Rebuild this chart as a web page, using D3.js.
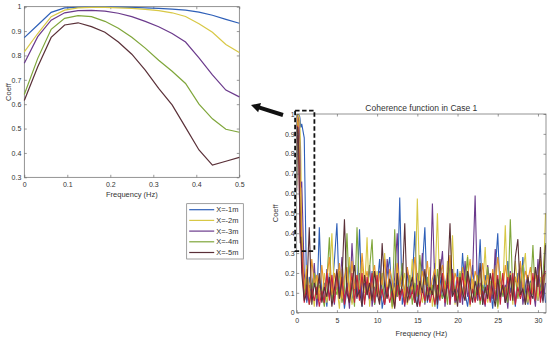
<!DOCTYPE html>
<html>
<head>
<meta charset="utf-8">
<script src="https://cdn.jsdelivr.net/npm/d3@7/dist/d3.min.js"></script>
<style>
  body { margin: 0; background: #fff; }
  svg { display: block; font-family: "Liberation Sans", Arial, sans-serif; }
  .axis text { fill: #333; font-size: 7px; }
  .axis line { stroke: #555; stroke-width: 0.6; }
  .axis path { display: none; }
  .lbl { fill: #333; font-size: 7.5px; }
</style>
</head>
<body>
<div id="chart"></div>
<script>
// 周波数の刻み (左の拡大図は 0-0.5Hz、右は全帯域)
var zoomFreq = d3.range(17).map(function(k) { return k / 32; });
var bandFreq = d3.range(98).map(function(i) { return 0.625 + i * 0.3125; });

// 左図の目盛り
var zoomXTicks = [0, 0.1, 0.2, 0.3, 0.4, 0.5];
var zoomYTicks = [0.3, 0.4, 0.5, 0.6, 0.7, 0.8, 0.9, 1];
// 右図の目盛り
var fullXTicks = [0, 5, 10, 15, 20, 25, 30];
var fullYTicks = [0, 0.1, 0.2, 0.3, 0.4, 0.5, 0.6, 0.7, 0.8, 0.9, 1];

var seriesNames = ['X=-1m', 'X=-2m', 'X=-3m', 'X=-4m', 'X=-5m'];

// 0-0.5Hz のコヒーレンス
var coefX1 = [0.873, 0.925, 0.977, 0.995, 0.997, 0.998, 0.998, 0.998, 0.997, 0.995, 0.993, 0.99, 0.986, 0.978, 0.965, 0.948, 0.932];
var coefX2 = [0.815, 0.89, 0.959, 0.986, 0.995, 0.997, 0.997, 0.995, 0.993, 0.989, 0.984, 0.975, 0.96, 0.93, 0.895, 0.845, 0.812];
var coefX3 = [0.768, 0.877, 0.945, 0.975, 0.984, 0.985, 0.982, 0.973, 0.959, 0.94, 0.918, 0.89, 0.855, 0.79, 0.72, 0.658, 0.63];
var coefX4 = [0.64, 0.788, 0.907, 0.952, 0.963, 0.959, 0.94, 0.912, 0.875, 0.83, 0.78, 0.735, 0.685, 0.6, 0.54, 0.497, 0.485];
var coefX5 = [0.615, 0.754, 0.874, 0.925, 0.934, 0.918, 0.895, 0.855, 0.805, 0.74, 0.665, 0.597, 0.505, 0.412, 0.35, 0.366, 0.382];
// 右図のみの2系列 (0-0.5Hz)
var coefOr = [0.9, 0.95, 0.98, 0.99, 0.985, 0.97, 0.95, 0.93, 0.9, 0.86, 0.82, 0.78, 0.74, 0.7, 0.66, 0.63, 0.6];
var coefRd = [0.85, 0.9, 0.93, 0.94, 0.93, 0.91, 0.88, 0.84, 0.79, 0.73, 0.66, 0.59, 0.52, 0.46, 0.41, 0.37, 0.35];

// 0.625Hz 以降のコヒーレンス
var bandX1 = [0.95, 0.88, 0.05, 0.18, 0.08, 0.22, 0.04, 0.43, 0.06, 0.15,
  0.03, 0.2, 0.1, 0.26, 0.45, 0.07, 0.16, 0.02, 0.12, 0.24,
  0.05, 0.14, 0.09, 0.42, 0.03, 0.17, 0.11, 0.06, 0.21, 0.04,
  0.13, 0.27, 0.02, 0.1, 0.19, 0.28, 0.06, 0.15, 0.08, 0.58,
  0.04, 0.12, 0.2, 0.07, 0.16, 0.41, 0.03, 0.11, 0.23, 0.43,
  0.05, 0.14, 0.09, 0.25, 0.02, 0.18, 0.07, 0.13, 0.2, 0.04,
  0.16, 0.08, 0.22, 0.05, 0.3, 0.1, 0.03, 0.15, 0.24, 0.06,
  0.12, 0.37, 0.04, 0.19, 0.09, 0.14, 0.02, 0.21, 0.4, 0.07,
  0.13, 0.05, 0.26, 0.1, 0.17, 0.03, 0.2, 0.08, 0.28, 0.11,
  0.04, 0.16, 0.09, 0.22, 0.06, 0.13, 0.18, 0.05];
var bandX2 = [0.45, 0.1, 0.24, 0.06, 0.15, 0.03, 0.19, 0.11, 0.08, 0.2,
  0.05, 0.16, 0.4, 0.09, 0.13, 0.02, 0.22, 0.07, 0.14, 0.28,
  0.04, 0.12, 0.18, 0.06, 0.25, 0.1, 0.38, 0.03, 0.15, 0.09,
  0.21, 0.05, 0.13, 0.3, 0.08, 0.17, 0.02, 0.11, 0.24, 0.06,
  0.14, 0.2, 0.04, 0.1, 0.27, 0.07, 0.575, 0.12, 0.05, 0.19,
  0.09, 0.23, 0.03, 0.15, 0.5, 0.08, 0.18, 0.06, 0.26, 0.11,
  0.39, 0.04, 0.14, 0.21, 0.07, 0.12, 0.29, 0.03, 0.17, 0.1,
  0.06, 0.2, 0.13, 0.33, 0.05, 0.16, 0.09, 0.24, 0.02, 0.14,
  0.11, 0.44, 0.07, 0.19, 0.04, 0.26, 0.12, 0.08, 0.21, 0.3,
  0.05, 0.15, 0.1, 0.23, 0.06, 0.18, 0.09, 0.5];
var bandX3 = [0.66, 0.2, 0.06, 0.14, 0.09, 0.25, 0.03, 0.17, 0.11, 0.05,
  0.22, 0.08, 0.13, 0.04, 0.19, 0.1, 0.28, 0.06, 0.15, 0.02,
  0.35, 0.12, 0.07, 0.2, 0.05, 0.16, 0.09, 0.24, 0.03, 0.13,
  0.08, 0.21, 0.11, 0.04, 0.27, 0.14, 0.06, 0.18, 0.4, 0.07,
  0.12, 0.03, 0.23, 0.09, 0.15, 0.05, 0.2, 0.1, 0.3, 0.04,
  0.16, 0.07, 0.55, 0.12, 0.06, 0.19, 0.31, 0.03, 0.14, 0.09,
  0.22, 0.05, 0.11, 0.17, 0.04, 0.26, 0.08, 0.13, 0.2, 0.59,
  0.06, 0.15, 0.1, 0.03, 0.24, 0.12, 0.07, 0.32, 0.05, 0.18,
  0.09, 0.14, 0.02, 0.21, 0.11, 0.06, 0.17, 0.25, 0.04, 0.13,
  0.19, 0.07, 0.12, 0.03, 0.27, 0.1, 0.06, 0.15];
var bandX4 = [0.3, 0.08, 0.17, 0.04, 0.12, 0.2, 0.07, 0.14, 0.1, 0.03,
  0.16, 0.38, 0.06, 0.13, 0.09, 0.21, 0.05, 0.11, 0.4, 0.08,
  0.15, 0.03, 0.43, 0.1, 0.18, 0.06, 0.12, 0.22, 0.37, 0.04,
  0.14, 0.09, 0.2, 0.05, 0.11, 0.16, 0.03, 0.42, 0.08, 0.13,
  0.25, 0.06, 0.1, 0.19, 0.04, 0.15, 0.08, 0.29, 0.12, 0.05,
  0.18, 0.09, 0.14, 0.03, 0.22, 0.11, 0.07, 0.16, 0.04, 0.26,
  0.1, 0.13, 0.06, 0.2, 0.09, 0.15, 0.28, 0.05, 0.12, 0.08,
  0.19, 0.04, 0.14, 0.1, 0.23, 0.06, 0.17, 0.11, 0.03, 0.21,
  0.08, 0.13, 0.05, 0.47, 0.1, 0.18, 0.07, 0.15, 0.24, 0.04,
  0.12, 0.09, 0.34, 0.06, 0.16, 0.11, 0.2, 0.35];
var bandX5 = [0.2, 0.06, 0.1, 0.43, 0.04, 0.15, 0.09, 0.2, 0.05, 0.13,
  0.08, 0.18, 0.03, 0.12, 0.22, 0.07, 0.16, 0.47, 0.1, 0.05,
  0.14, 0.24, 0.08, 0.11, 0.03, 0.19, 0.09, 0.15, 0.06, 0.21,
  0.1, 0.04, 0.35, 0.13, 0.07, 0.17, 0.11, 0.02, 0.2, 0.09,
  0.14, 0.45, 0.05, 0.12, 0.18, 0.08, 0.03, 0.16, 0.1, 0.22,
  0.06, 0.13, 0.09, 0.19, 0.04, 0.27, 0.11, 0.07, 0.15, 0.45,
  0.08, 0.12, 0.03, 0.18, 0.1, 0.06, 0.21, 0.14, 0.05, 0.16,
  0.09, 0.25, 0.04, 0.13, 0.07, 0.2, 0.11, 0.03, 0.17, 0.08,
  0.14, 0.05, 0.1, 0.19, 0.06, 0.28, 0.37, 0.09, 0.12, 0.04,
  0.18, 0.1, 0.07, 0.23, 0.13, 0.33, 0.05, 0.34];
var bandOr = [0.35, 0.12, 0.22, 0.08, 0.27, 0.14, 0.19, 0.06, 0.24, 0.11,
  0.17, 0.28, 0.09, 0.2, 0.13, 0.25, 0.07, 0.18, 0.23, 0.1,
  0.26, 0.12, 0.19, 0.08, 0.3, 0.15, 0.21, 0.11, 0.17, 0.24,
  0.09, 0.2, 0.14, 0.27, 0.1, 0.22, 0.16, 0.06, 0.25, 0.13,
  0.19, 0.08, 0.23, 0.15, 0.11, 0.28, 0.18, 0.09, 0.21, 0.14,
  0.26, 0.1, 0.17, 0.22, 0.07, 0.19, 0.24, 0.12, 0.16, 0.29,
  0.11, 0.2, 0.15, 0.08, 0.23, 0.13, 0.18, 0.27, 0.1, 0.21,
  0.16, 0.09, 0.25, 0.14, 0.19, 0.07, 0.22, 0.12, 0.28, 0.17,
  0.1, 0.24, 0.15, 0.2, 0.08, 0.18, 0.13, 0.26, 0.11, 0.21,
  0.16, 0.23, 0.09, 0.19, 0.14, 0.27, 0.12, 0.2];
var bandRd = [0.3, 0.05, 0.14, 0.04, 0.12, 0.06, 0.13, 0.03, 0.11, 0.05,
  0.2, 0.06, 0.19, 0.05, 0.2, 0.07, 0.18, 0.04, 0.13, 0.06,
  0.2, 0.05, 0.19, 0.06, 0.2, 0.04, 0.18, 0.07, 0.2, 0.05,
  0.19, 0.06, 0.12, 0.04, 0.13, 0.05, 0.11, 0.03, 0.14, 0.06,
  0.12, 0.04, 0.13, 0.07, 0.11, 0.05, 0.14, 0.03, 0.12, 0.06,
  0.13, 0.05, 0.11, 0.04, 0.14, 0.06, 0.2, 0.05, 0.19, 0.04,
  0.2, 0.06, 0.18, 0.05, 0.2, 0.07, 0.19, 0.04, 0.12, 0.05,
  0.13, 0.06, 0.11, 0.04, 0.14, 0.05, 0.2, 0.06, 0.19, 0.04,
  0.2, 0.05, 0.18, 0.06, 0.2, 0.04, 0.13, 0.07, 0.12, 0.05,
  0.14, 0.04, 0.2, 0.06, 0.19, 0.05, 0.18, 0.21];

(function() {
  var width = 550;
  var height = 342;

  var colors = ['#2e5fb8', '#d8c845', '#6b3a8c', '#7fa63a', '#5a3038'];
  var colorOr = '#e8962a';
  var colorRd = '#c8203c';

  var svg = d3.select('#chart').append('svg')
    .attr('width', width).attr('height', height);

  // 軸と枠を描く共通関数
  function drawFrame(g, x, y, w, h, xTicks, yTicks, xPad, yPad) {
    var fmt = function(d) { return String(d); };
    g.append('g').attr('class', 'axis').attr('transform', 'translate(0,' + h + ')')
      .call(d3.axisBottom(x).tickValues(xTicks).tickSize(-2.5).tickPadding(xPad).tickFormat(fmt));
    g.append('g').attr('class', 'axis')
      .call(d3.axisTop(x).tickValues(xTicks).tickSize(-2.5).tickFormat(''));
    g.append('g').attr('class', 'axis')
      .call(d3.axisLeft(y).tickValues(yTicks).tickSize(-2.5).tickPadding(yPad).tickFormat(fmt));
    g.append('g').attr('class', 'axis').attr('transform', 'translate(' + w + ',0)')
      .call(d3.axisRight(y).tickValues(yTicks).tickSize(-2.5).tickFormat(''));
    g.append('rect').attr('width', w).attr('height', h)
      .attr('fill', 'none').attr('stroke', '#666').attr('stroke-width', 0.7);
  }

  // ---- 左：0-0.5Hz 拡大図 ----
  var lm = { left: 24.3, top: 6.7 };
  var lw = 215, lh = 170.6;
  var gl = svg.append('g').attr('transform', 'translate(' + lm.left + ',' + lm.top + ')');
  var xL = d3.scaleLinear().domain([0, 0.5]).range([0, lw]);
  var yL = d3.scaleLinear().domain([0.3, 1]).range([lh, 0]);

  drawFrame(gl, xL, yL, lw, lh, zoomXTicks, zoomYTicks, 4.5, 3);

  var zoomSeries = [coefX1, coefX2, coefX3, coefX4, coefX5];
  var lineL = d3.line()
    .x(function(d, i) { return xL(zoomFreq[i]); })
    .y(function(d) { return yL(d); });

  gl.selectAll('.zline').data(zoomSeries).enter().append('path')
    .attr('class', 'zline')
    .attr('d', lineL)
    .attr('fill', 'none')
    .attr('stroke', function(d, i) { return colors[i]; })
    .attr('stroke-width', 1.2);

  gl.append('text').attr('class', 'lbl')
    .attr('x', lw / 2).attr('y', lh + 19.5).attr('text-anchor', 'middle')
    .text('Frequency (Hz)');
  gl.append('text').attr('class', 'lbl')
    .attr('transform', 'translate(-13,' + lh / 2 + ') rotate(-90)')
    .attr('text-anchor', 'middle')
    .text('Coeff');

  // 凡例
  var leg = svg.append('g').attr('transform', 'translate(186.7,203.7)');
  leg.append('rect').attr('width', 56.6).attr('height', 55.3)
    .attr('fill', '#fff').attr('stroke', '#777').attr('stroke-width', 0.7);
  var items = leg.selectAll('.item').data(seriesNames).enter().append('g')
    .attr('transform', function(d, i) { return 'translate(0,' + (6 + i * 10.7) + ')'; });
  items.append('line').attr('x1', 2.5).attr('x2', 27.5)
    .attr('stroke', function(d, i) { return colors[i]; }).attr('stroke-width', 1.2);
  items.append('text').attr('class', 'lbl').attr('x', 29.5).attr('dy', '0.35em')
    .text(function(d) { return d; });

  // ---- 右：全帯域 ----
  var rm = { left: 296.7, top: 114 };
  var rw = 249.3, rh = 198.7;
  var gr = svg.append('g').attr('transform', 'translate(' + rm.left + ',' + rm.top + ')');
  var xR = d3.scaleLinear().domain([0, 31]).range([0, rw]);
  var yR = d3.scaleLinear().domain([0, 1]).range([rh, 0]);

  gr.append('defs').append('clipPath').attr('id', 'clipR')
    .append('rect').attr('width', rw).attr('height', rh);

  var fullFreq = zoomFreq.concat(bandFreq);
  var fullSeries = [
    { c: colors[0], v: coefX1.concat(bandX1) },
    { c: colors[1], v: coefX2.concat(bandX2) },
    { c: colors[2], v: coefX3.concat(bandX3) },
    { c: colors[3], v: coefX4.concat(bandX4) },
    { c: colorOr, v: coefOr.concat(bandOr) },
    { c: colorRd, v: coefRd.concat(bandRd) },
    { c: colors[4], v: coefX5.concat(bandX5) }
  ];
  var lineR = d3.line()
    .x(function(d, i) { return xR(fullFreq[i]); })
    .y(function(d) { return yR(d); });

  gr.append('g').attr('clip-path', 'url(#clipR)')
    .selectAll('.fline').data(fullSeries).enter().append('path')
    .attr('class', 'fline')
    .attr('d', function(d) { return lineR(d.v); })
    .attr('fill', 'none')
    .attr('stroke', function(d) { return d.c; })
    .attr('stroke-width', 1.1);

  drawFrame(gr, xR, yR, rw, rh, fullXTicks, fullYTicks, 5, 2);

  gr.append('text').attr('class', 'lbl')
    .attr('x', rw / 2).attr('y', rh + 23.5).attr('text-anchor', 'middle')
    .text('Frequency (Hz)');
  gr.append('text').attr('class', 'lbl')
    .attr('transform', 'translate(-19,' + rh / 2 + ') rotate(-90)')
    .attr('text-anchor', 'middle')
    .text('Coeff');
  gr.append('text').attr('class', 'lbl').style('font-size', '8.5px')
    .attr('x', rw / 2).attr('y', -3).attr('text-anchor', 'middle')
    .text('Coherence function in Case 1');

  // 拡大範囲を示す破線の枠
  gr.append('rect')
    .attr('x', xR(-0.2)).attr('y', yR(1.017))
    .attr('width', xR(2.2) - xR(-0.2)).attr('height', yR(0.31) - yR(1.017))
    .attr('fill', 'none').attr('stroke', '#111')
    .attr('stroke-width', 1.8).attr('stroke-dasharray', '4.5,2.5');

  // 矢印 (破線枠 → 拡大図)
  var tail = [283, 115], tip = [251, 105];
  var dx = tip[0] - tail[0], dy = tip[1] - tail[1];
  var len = Math.sqrt(dx * dx + dy * dy);
  var ux = dx / len, uy = dy / len, nx = -uy, ny = ux;
  var hl = 9, sw = 2, hw = 4.8;
  var bx = tip[0] - ux * hl, by = tip[1] - uy * hl;
  var pts = [
    [tail[0] + nx * sw, tail[1] + ny * sw],
    [bx + nx * sw, by + ny * sw],
    [bx + nx * hw, by + ny * hw],
    tip,
    [bx - nx * hw, by - ny * hw],
    [bx - nx * sw, by - ny * sw],
    [tail[0] - nx * sw, tail[1] - ny * sw]
  ];
  svg.append('polygon')
    .attr('points', pts.map(function(p) { return p.join(','); }).join(' '))
    .attr('fill', '#111');
})();
</script>
</body>
</html>
